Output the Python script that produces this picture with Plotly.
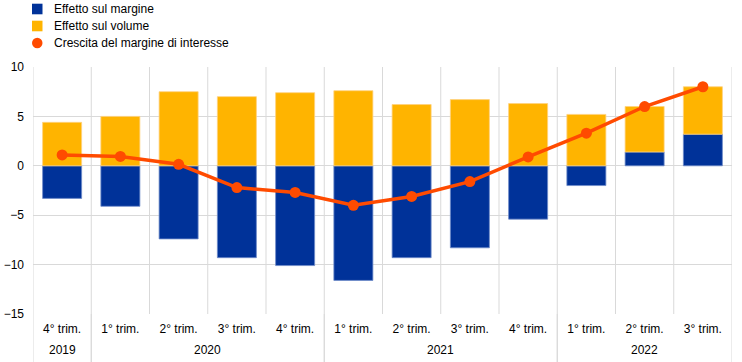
import plotly.graph_objects as go

quarters = ["4° trim.", "1° trim.", "2° trim.", "3° trim.", "4° trim.",
            "1° trim.", "2° trim.", "3° trim.", "4° trim.",
            "1° trim.", "2° trim.", "3° trim."]
years = ["2019", "2020", "2021", "2022"]
year_spans = [(0, 0), (1, 4), (5, 8), (9, 11)]

effetto_margine = [-3.3, -4.1, -7.4, -9.3, -10.1, -11.6, -9.3, -8.3, -5.4, -2.0, 1.4, 3.2]
effetto_volume = [4.4, 5.0, 7.5, 7.0, 7.4, 7.6, 6.2, 6.7, 6.3, 5.2, 4.6, 4.8]
crescita_margine = [1.1, 0.95, 0.15, -2.2, -2.7, -4.0, -3.1, -1.6, 0.9, 3.3, 6.0, 8.0]

legend_labels = ["Effetto sul margine", "Effetto sul volume", "Crescita del margine di interesse"]

BLUE = "#003299"
YELLOW = "#FFB400"
ORANGE = "#FF4B00"
GRID = "#D9D9D9"
FONT = "Liberation Sans, Arial, sans-serif"

W, H = 742, 362
ML, MR, MT, MB = 33, 10, 67, 48
PW, PH = W - ML - MR, H - MT - MB

def px_x(px):
    return (px - ML) / PW

def px_y(py):
    return (H - MB - py) / PH

x = list(range(len(quarters)))

fig = go.Figure()
fig.add_trace(go.Bar(x=x, y=effetto_margine, name=legend_labels[0], showlegend=False,
                     marker=dict(color=BLUE, line=dict(color="#6F8BC9", width=0.8))))
fig.add_trace(go.Bar(x=x, y=effetto_volume, name=legend_labels[1], showlegend=False,
                     marker=dict(color=YELLOW, line=dict(color="#FFD27F", width=0.8))))
fig.add_trace(go.Scatter(x=x, y=crescita_margine, mode="lines", showlegend=False,
                         line=dict(color=ORANGE, width=3.5), hoverinfo="skip"))
fig.add_trace(go.Scatter(x=x, y=crescita_margine, mode="markers", showlegend=False,
                         name=legend_labels[2], marker=dict(color=ORANGE, size=11)))

shapes = []
for b in range(len(quarters) + 1):
    bx = b - 0.5
    shapes.append(dict(type="line", xref="x", yref="paper", x0=bx, x1=bx, y0=0, y1=1,
                       line=dict(color=GRID, width=1), layer="below"))
for (s, e) in year_spans:
    for bx in (s - 0.5, e + 0.5):
        shapes.append(dict(type="line", xref="x", yref="paper", x0=bx, x1=bx,
                           y0=px_y(H), y1=0, line=dict(color=GRID, width=1), layer="below"))

# manual legend
leg_colors = [BLUE, YELLOW, ORANGE]
leg_centers = [9, 26, 43]
for i, (lab, col, cy) in enumerate(zip(legend_labels, leg_colors, leg_centers)):
    shp = "circle" if i == 2 else "rect"
    shapes.append(dict(type=shp, xref="paper", yref="paper",
                       x0=px_x(32), x1=px_x(42.5), y0=px_y(cy + 5.3), y1=px_y(cy - 5.3),
                       fillcolor=col, line=dict(width=0)))

annotations = []
for lab, cy in zip(legend_labels, leg_centers):
    annotations.append(dict(x=px_x(52), y=px_y(cy), xref="paper", yref="paper", text=lab,
                            showarrow=False, xanchor="left", yanchor="middle",
                            font=dict(size=12, color="#000000", family=FONT)))
for yr, (s, e) in zip(years, year_spans):
    annotations.append(dict(x=(s + e) / 2, y=px_y(350), xref="x", yref="paper", text=yr,
                            showarrow=False, xanchor="center", yanchor="middle",
                            font=dict(size=12, color="#000000", family=FONT)))

fig.update_layout(
    template="none",
    width=W, height=H,
    margin=dict(l=ML, r=MR, t=MT, b=MB, autoexpand=False),
    barmode="relative",
    bargap=0.33,
    plot_bgcolor="white", paper_bgcolor="white",
    font=dict(family=FONT, size=12, color="#000000"),
    showlegend=False,
    shapes=shapes,
    annotations=annotations,
    xaxis=dict(range=[-0.5, len(quarters) - 0.5], tickmode="array", tickvals=x, ticktext=quarters,
               showgrid=False, zeroline=False, showline=False, ticks="", automargin=False,
               ticklabelstandoff=6, fixedrange=True),
    yaxis=dict(range=[-15, 10], tickmode="array", tickvals=[-15, -10, -5, 0, 5, 10],
               showgrid=True, gridcolor=GRID, gridwidth=1, zeroline=True, zerolinecolor=GRID,
               zerolinewidth=1, showline=False, ticks="", automargin=False,
               ticklabelstandoff=8, fixedrange=True),
)

fig.write_html("out.html", config={"displayModeBar": False},
               post_script="document.body.style.margin='0px';")
